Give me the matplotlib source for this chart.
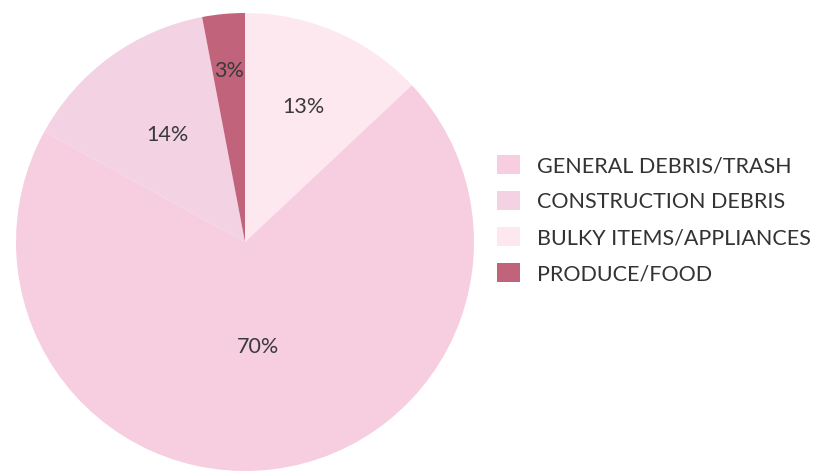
import numpy as np
import matplotlib.pyplot as plt

# slices in drawing order, clockwise from 12 o'clock
categories = ['BULKY ITEMS/APPLIANCES', 'GENERAL DEBRIS/TRASH',
              'CONSTRUCTION DEBRIS', 'PRODUCE/FOOD']
shares = [13, 70, 14, 3]
colors = ['#fde8ef', '#f7cee0', '#f2d2e3', '#c1637b']
legend_order = ['GENERAL DEBRIS/TRASH', 'CONSTRUCTION DEBRIS',
                'BULKY ITEMS/APPLIANCES', 'PRODUCE/FOOD']
label_dist = [0.64, 0.46, 0.58, 0.75]

plt.rcParams['font.family'] = ['Lato', 'DejaVu Sans']

fig = plt.figure(figsize=(8.24, 4.71), dpi=100)
ax = fig.add_axes([16/824, 0.0, 458/824, 458/471])

wedges, texts = ax.pie(shares, colors=colors, startangle=90, counterclock=False,
                       radius=1, wedgeprops=dict(linewidth=0))
ax.set_xlim(-1, 1)
ax.set_ylim(-1, 1)
ax.set_aspect('equal')

for w, v, d in zip(wedges, shares, label_dist):
    mid = np.deg2rad((w.theta1 + w.theta2) / 2)
    ax.text(d*np.cos(mid), d*np.sin(mid), '%d%%' % v, ha='center', va='center',
            fontsize=15.5, color='#3a3a3a')

handles = [wedges[categories.index(c)] for c in legend_order]
fig.legend(handles, legend_order, loc='upper left', bbox_to_anchor=(497/824, 1 - 155/471),
           frameon=False, fontsize=15.5, handlelength=1.05, handleheight=1.0,
           labelspacing=0.7, handletextpad=0.8, borderaxespad=0, borderpad=0,
           labelcolor='#333333')

plt.savefig('out.png', dpi=100)
